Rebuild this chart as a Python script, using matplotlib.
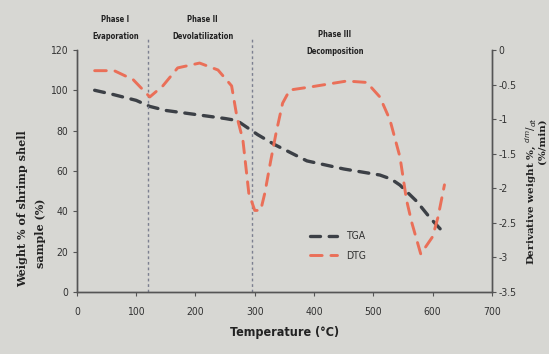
import matplotlib.pyplot as plt

# --- DATA ---
tga_temp = [30, 60, 100, 123, 150, 200, 250, 270, 290, 305, 334, 388, 450, 511, 530, 545, 573, 595, 620]
tga_weight = [100, 98, 95, 92, 90, 88, 86, 85, 81, 78, 73, 65, 61, 58, 56, 53, 45, 37, 29]

dtg_temp = [30, 63, 95, 123, 145, 170, 207, 238, 261, 270, 280, 290, 300, 310, 317, 327, 336, 347,
            359, 398, 455, 489, 511, 528, 545, 556, 565, 580, 600, 609, 620]
dtg_rate = [-0.30, -0.30, -0.43, -0.68, -0.52, -0.26, -0.19, -0.29, -0.52, -0.97, -1.30, -2.07, -2.32,
            -2.32, -2.07, -1.60, -1.20, -0.77, -0.58, -0.53, -0.45, -0.47, -0.68, -1.01, -1.55, -2.17,
            -2.50, -2.95, -2.70, -2.42, -1.95]

phase_bounds = [120, 296]
phase_labels = [("Phase I", "Evaporation", 65, 135, 126.5),
                ("Phase II", "Devolatilization", 212, 135, 126.5),
                ("Phase III", "Decomposition", 435, 127.5, 119)]

x_ticks = [0, 100, 200, 300, 400, 500, 600, 700]
left_ticks = [0, 20, 40, 60, 80, 100, 120]
right_ticks = [0, -0.5, -1, -1.5, -2, -2.5, -3, -3.5]

bg = '#d7d7d3'
tga_color = '#3c4046'
dtg_color = '#ea6f58'
label_font = ['DejaVu Serif']


def narrow(t):
    t.set_family('DejaVu Sans')
    t.set_stretch('condensed')


fig = plt.figure(figsize=(5.49, 3.54), dpi=100, facecolor=bg)
ax = fig.add_axes([0.140, 0.175, 0.756, 0.684], facecolor=bg)
ax2 = ax.twinx()

ax.plot(tga_temp, tga_weight, color=tga_color, lw=2.4, dashes=(3, 2.6),
        dash_capstyle='round', label='TGA')
ax2.plot(dtg_temp, dtg_rate, color=dtg_color, lw=2.1, dashes=(4, 3),
         dash_capstyle='round', label='DTG')

for t in phase_bounds:
    ax.plot([t, t], [0, 126], color='#7c8090', lw=1.0, ls=(0, (2, 2)), clip_on=False)

for top, bottom, x, y1, y2 in phase_labels:
    for txt, y in ((top, y1), (bottom, y2)):
        narrow(ax.text(x, y, txt, ha='center', va='center', fontsize=5.5, fontweight='bold',
                       color='#222222'))

ax.set_xlim(0, 700)
ax.set_ylim(0, 120)
ax2.set_ylim(-3.5, 0)
ax.set_xticks(x_ticks)
ax.set_yticks(left_ticks)
ax2.set_yticks(right_ticks)
ax2.set_yticklabels([f"{v:g}" for v in right_ticks])

for a in (ax, ax2):
    a.spines['top'].set_visible(False)
    for s in ('left', 'right', 'bottom'):
        a.spines[s].set_color('#555555')
        a.spines[s].set_linewidth(1.0)
    a.tick_params(colors='#555555', length=3, width=0.8, labelsize=7.5, labelcolor='#333333')
    for lbl in a.get_xticklabels() + a.get_yticklabels():
        narrow(lbl)
ax.tick_params(axis='x', pad=8)
ax2.tick_params(axis='y', pad=2)

ax.set_xlabel('Temperature (°C)', fontsize=9, fontweight='bold', color='#222222', labelpad=6)
narrow(ax.xaxis.label)

fig.text(0.042, 0.41, 'Weight % of shrimp shell', rotation=90, ha='center', va='center',
         fontsize=8, fontweight='bold', family=label_font, color='#222222')
fig.text(0.073, 0.34, 'sample (%)', rotation=90, ha='center', va='center',
         fontsize=8, fontweight='bold', family=label_font, color='#222222')
fig.text(0.966, 0.46, r'Derivative weight %, $^{dm}/_{dt}$', rotation=90, ha='center',
         va='center', fontsize=7.5, fontweight='bold', family=label_font, color='#222222')
fig.text(0.988, 0.60, '(%/min)', rotation=90, ha='center', va='center',
         fontsize=7.5, fontweight='bold', family=label_font, color='#222222')

h1, l1 = ax.get_legend_handles_labels()
h2, l2 = ax2.get_legend_handles_labels()
leg = ax.legend(h1 + h2, l1 + l2, loc='center left', bbox_to_anchor=(0.54, 0.19),
                frameon=False, handlelength=2.6, labelspacing=0.9,
                prop={'family': 'DejaVu Sans', 'stretch': 'condensed', 'size': 7.5})
for t in leg.get_texts():
    t.set_color('#333333')

fig.savefig('out.png', dpi=100, facecolor=bg)
